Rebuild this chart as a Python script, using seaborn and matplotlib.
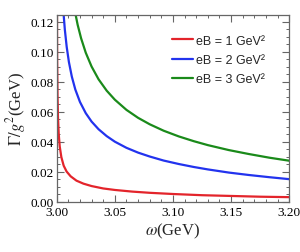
import numpy as np
import pandas as pd
import seaborn as sns
import matplotlib.pyplot as plt
from matplotlib.ticker import MultipleLocator

# values (smoothed by eye)
omega_r = [3.0002, 3.0004, 3.0007, 3.0011, 3.0017, 3.0026, 3.0040, 3.0060, 3.0085,
           3.012, 3.017, 3.023, 3.030, 3.040, 3.050, 3.065, 3.080, 3.100,
           3.125, 3.150, 3.175, 3.200]
gamma_r = [0.133, 0.094, 0.071, 0.0566, 0.0456, 0.0368, 0.0297, 0.0240, 0.0201,
           0.0169, 0.0140, 0.0120, 0.0104, 0.0088, 0.0078, 0.0067, 0.0059, 0.0051,
           0.0043, 0.0038, 0.0033, 0.0030]

omega_b = [3.0053, 3.0057, 3.0070, 3.0086, 3.0105, 3.013, 3.016, 3.020, 3.025,
           3.030, 3.036, 3.043, 3.050, 3.060, 3.070, 3.080, 3.092, 3.105,
           3.118, 3.130, 3.148, 3.165, 3.183, 3.200]
gamma_b = [0.1321, 0.1273, 0.1147, 0.1032, 0.0931, 0.0834, 0.0748, 0.0665, 0.0590,
           0.0534, 0.0483, 0.0437, 0.0400, 0.0359, 0.0327, 0.0301, 0.0274, 0.0251,
           0.0231, 0.0215, 0.0194, 0.0178, 0.0163, 0.0150]

omega_g = [3.0150, 3.0157, 3.018, 3.021, 3.025, 3.030, 3.036, 3.043, 3.050,
           3.060, 3.070, 3.080, 3.092, 3.105, 3.118, 3.130, 3.148, 3.165,
           3.183, 3.200]
gamma_g = [0.1298, 0.1268, 0.1180, 0.1089, 0.0993, 0.0901, 0.0816, 0.0740, 0.0680,
           0.0612, 0.0559, 0.0516, 0.0473, 0.0435, 0.0403, 0.0377, 0.0344, 0.0318,
           0.0293, 0.0273]

labels = ['eB = 1 GeV\u00b2', 'eB = 2 GeV\u00b2', 'eB = 3 GeV\u00b2']
colors = ['#e3242b', '#2233ee', '#1a8a1a']

df = pd.concat([
    pd.DataFrame({'omega': omega_r, 'gamma': gamma_r, 'eB': labels[0]}),
    pd.DataFrame({'omega': omega_b, 'gamma': gamma_b, 'eB': labels[1]}),
    pd.DataFrame({'omega': omega_g, 'gamma': gamma_g, 'eB': labels[2]}),
])

sns.set_style('ticks')
plt.rcParams['font.family'] = ['Liberation Serif', 'DejaVu Serif']
plt.rcParams['mathtext.fontset'] = 'stix'

fig = plt.figure(figsize=(3.0, 2.53), dpi=100)
ax = fig.add_axes([0.189, 0.199, 0.775, 0.738])

sns.lineplot(data=df, x='omega', y='gamma', hue='eB', palette=colors,
             sort=False, linewidth=1.6, ax=ax)

ax.set_xlim(3.0, 3.2)
ax.set_ylim(0, 0.1245)
ax.xaxis.set_major_locator(MultipleLocator(0.05))
ax.xaxis.set_minor_locator(MultipleLocator(0.01))
ax.yaxis.set_major_locator(MultipleLocator(0.02))
ax.yaxis.set_minor_locator(MultipleLocator(0.005))
ax.xaxis.set_major_formatter(plt.FormatStrFormatter('%.2f'))
ax.yaxis.set_major_formatter(plt.FormatStrFormatter('%.2f'))

frame = '#666666'
for s in ax.spines.values():
    s.set_color(frame)
    s.set_linewidth(0.9)
ax.tick_params(which='both', direction='in', top=True, right=True,
               color=frame, labelsize=9.5, labelcolor='black', pad=2)
ax.tick_params(axis='x', pad=3)
ax.tick_params(which='major', length=5, width=0.8)
ax.tick_params(which='minor', length=2.5, width=0.7)

ax.set_xlabel(r'$\omega$(GeV)', fontsize=12, labelpad=2)
ax.set_ylabel(r'$\Gamma/g^2$(GeV)', fontsize=12, labelpad=2)

leg = ax.legend(loc='upper left', bbox_to_anchor=(0.496, 0.895), frameon=False,
                prop={'family': 'Liberation Sans', 'size': 9},
                borderaxespad=0, borderpad=0,
                handlelength=1.65, handletextpad=0.3, labelspacing=0.59)
for h in leg.get_lines():
    h.set_linewidth(1.6)

fig.savefig('out.png', dpi=100)
